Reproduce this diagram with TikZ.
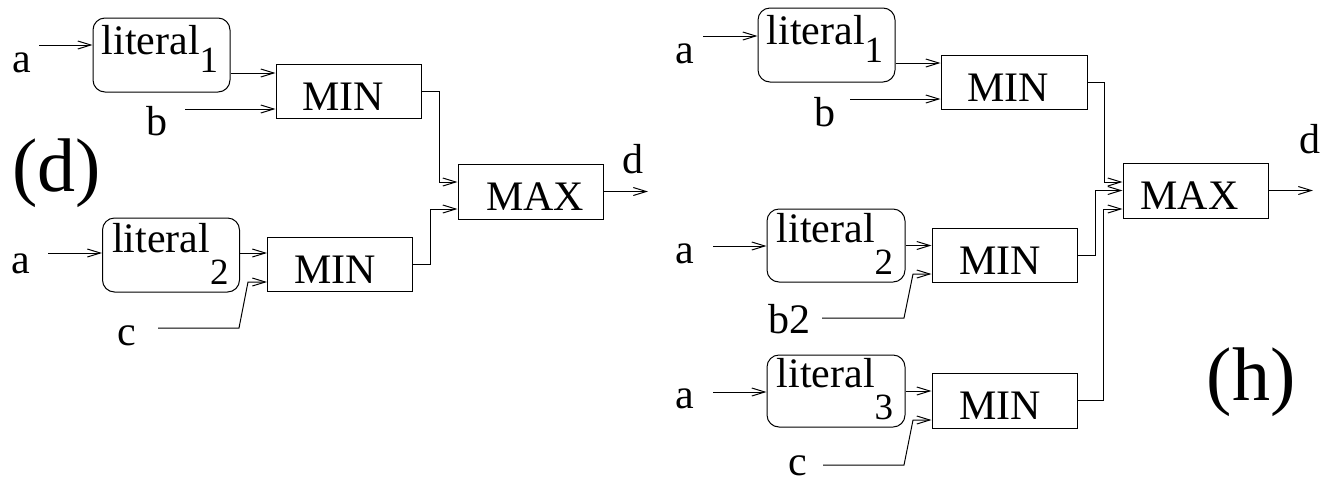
\documentclass[tikz,border=0pt]{standalone}
\usepackage{fontspec}
\setmainfont{Liberation Serif}
\usetikzlibrary{arrows.meta}
% lowered index after "literal"
\newcommand\litsub[2]{\raisebox{#1}{\fontsize{37}{37}\selectfont #2}}

\begin{document}
\begin{tikzpicture}[x=1pt,y=-1pt,
  every node/.style={font=\fontsize{42}{48}\selectfont},
  lbl/.style={inner sep=0pt, anchor=base},
  big/.style={inner sep=0pt, anchor=base, font=\fontsize{76}{80}\selectfont},
  litbox/.style={draw, rounded corners=12pt, minimum width=137pt, minimum height=74pt, inner sep=0pt, line width=1pt},
  littext/.style={inner sep=0pt, anchor=base west},
  opbox/.style={draw, rectangle, minimum width=145pt, minimum height=54pt, inner sep=0pt,
                text height=38pt, text depth=0pt, line width=1pt},
  wire/.style={line width=1pt},
  arr/.style={wire, -{Straight Barb[length=13pt,width=8pt]}},
]
\useasboundingbox (0,0) rectangle (1321,483);

% ---------------- circuit (d) ----------------
\node[litbox] (dlit1) at (161.5,55) {};
\node[littext] (dlit1t) at ([shift={(9,37)}]dlit1.north west) {literal\litsub{-18pt}{1}};
\node[litbox] (dlit2) at (171,255) {};
\node[littext] (dlit2t) at ([shift={(10,35)}]dlit2.north west) {literal\litsub{-32pt}{2}};

\node[opbox] (dmin1) at (348.5,91) {MIN\kern11pt};
\node[opbox] (dmin2) at (340,264) {MIN\kern10pt};
\node[opbox, minimum height=55pt] (dmax) at (530.5,191.5) {\kern9pt MAX};

\node[lbl] (da1) at (21.5,72) {a};
\node[lbl] (db)  at (157,135) {b};
\node[lbl] (da2) at (21,273) {a};
\node[lbl] (dc)  at (127,345) {c};
\node[lbl] (dd)  at (633,173) {d};
\node[big] (dlabel) at (57,191.5) {(d)};

\coordinate (dsa1) at (39,45);
\coordinate (dsb)  at (185,109);
\coordinate (dsa2) at (48,253);
\coordinate (dsc)  at (158,328);
\coordinate (dout) at (648,191.5);

\draw[arr] (dsa1) -- (dsa1 -| dlit1.west);
\draw[arr] ([yshift=-18pt]dlit1.east) coordinate (dp1) -- (dp1 -| dmin1.west);
\draw[arr] (dsb) -- (dsb -| dmin1.west);
\draw[arr] (dsa2) -- (dsa2 -| dlit2.west);
\draw[arr] ([yshift=2pt]dlit2.east) coordinate (dp2) -- (dp2 -| dmin2.west);
\draw[arr] (dsc) -- ++(81,0) -- ++(9,-46) -- ([yshift=-18pt]dmin2.west);
\draw[arr] (dmin1.east) -- ++(18,0) |- ([yshift=9.5pt]dmax.west);
\draw[arr] (dmin2.east) -- ++(17,0) |- ([yshift=-17.5pt]dmax.west);
\draw[arr] (dmax.east) -- (dout);

% ---------------- circuit (h) ----------------
\node[litbox] (hlit1) at (826.5,45) {};
\node[littext] (hlit1t) at ([shift={(9,37)}]hlit1.north west) {literal\litsub{-18pt}{1}};
\node[litbox, minimum width=138pt, minimum height=73pt] (hlit2) at (836,245.5) {};
\node[littext] (hlit2t) at ([shift={(10,34)}]hlit2.north west) {literal\litsub{-32pt}{2}};
\node[litbox, minimum width=138pt, minimum height=72pt] (hlit3) at (836,391) {};
\node[littext] (hlit3t) at ([shift={(10,33)}]hlit3.north west) {literal\litsub{-32pt}{3}};

\node[opbox, minimum width=146pt] (hmin1) at (1014,82) {MIN\kern12pt};
\node[opbox] (hmin2) at (1004.5,255) {MIN\kern9pt};
\node[opbox, minimum height=55pt] (hmin3) at (1004.5,400.5) {MIN\kern9pt};
\node[opbox, minimum height=55pt] (hmax) at (1195.5,190.5) {MAX\kern12pt};

\node[lbl] (ha1) at (685,63) {a};
\node[lbl] (hb)  at (825,126) {b};
\node[lbl] (ha2) at (685,263) {a};
\node[lbl] (hb2) at (789,333) {b2};
\node[lbl] (ha3) at (685,408) {a};
\node[lbl] (hc)  at (798,475) {c};
\node[lbl] (hd)  at (1310,153) {d};
\node[big] (hlabel) at (1251,400) {(h)};

\coordinate (hsa1) at (703,36);
\coordinate (hsb)  at (850,99);
\coordinate (hsa2) at (713,246);
\coordinate (hsb2) at (822,318);
\coordinate (hsa3) at (713,392);
\coordinate (hsc)  at (823,465);
\coordinate (hout) at (1313,190.5);

\draw[arr] (hsa1) -- (hsa1 -| hlit1.west);
\draw[arr] ([yshift=-18pt]hlit1.east) coordinate (hp1) -- (hp1 -| hmin1.west);
\draw[arr] (hsb) -- (hsb -| hmin1.west);
\draw[arr] (hsa2) -- (hsa2 -| hlit2.west);
\draw[arr] (hlit2.east) -- (hlit2.east -| hmin2.west);
\draw[arr] (hsb2) -- ++(82,0) -- ++(9,-44) -- ([yshift=-19pt]hmin2.west);
\draw[arr] (hsa3) -- (hsa3 -| hlit3.west);
\draw[arr] (hlit3.east) -- (hlit3.east -| hmin3.west);
\draw[arr] (hsc) -- ++(81,0) -- ++(9,-45) -- ([yshift=-19.5pt]hmin3.west);
\draw[arr] (hmin1.east) -- ++(17,0) |- ([yshift=8.5pt]hmax.west);
\draw[arr] (hmin2.east) -- ++(18,0) |- (hmax.west);
\draw[arr] (hmin3.east) -- ++(26,0) |- ([yshift=-18.5pt]hmax.west);
\draw[arr] (hmax.east) -- (hout);
\end{tikzpicture}
\end{document}
